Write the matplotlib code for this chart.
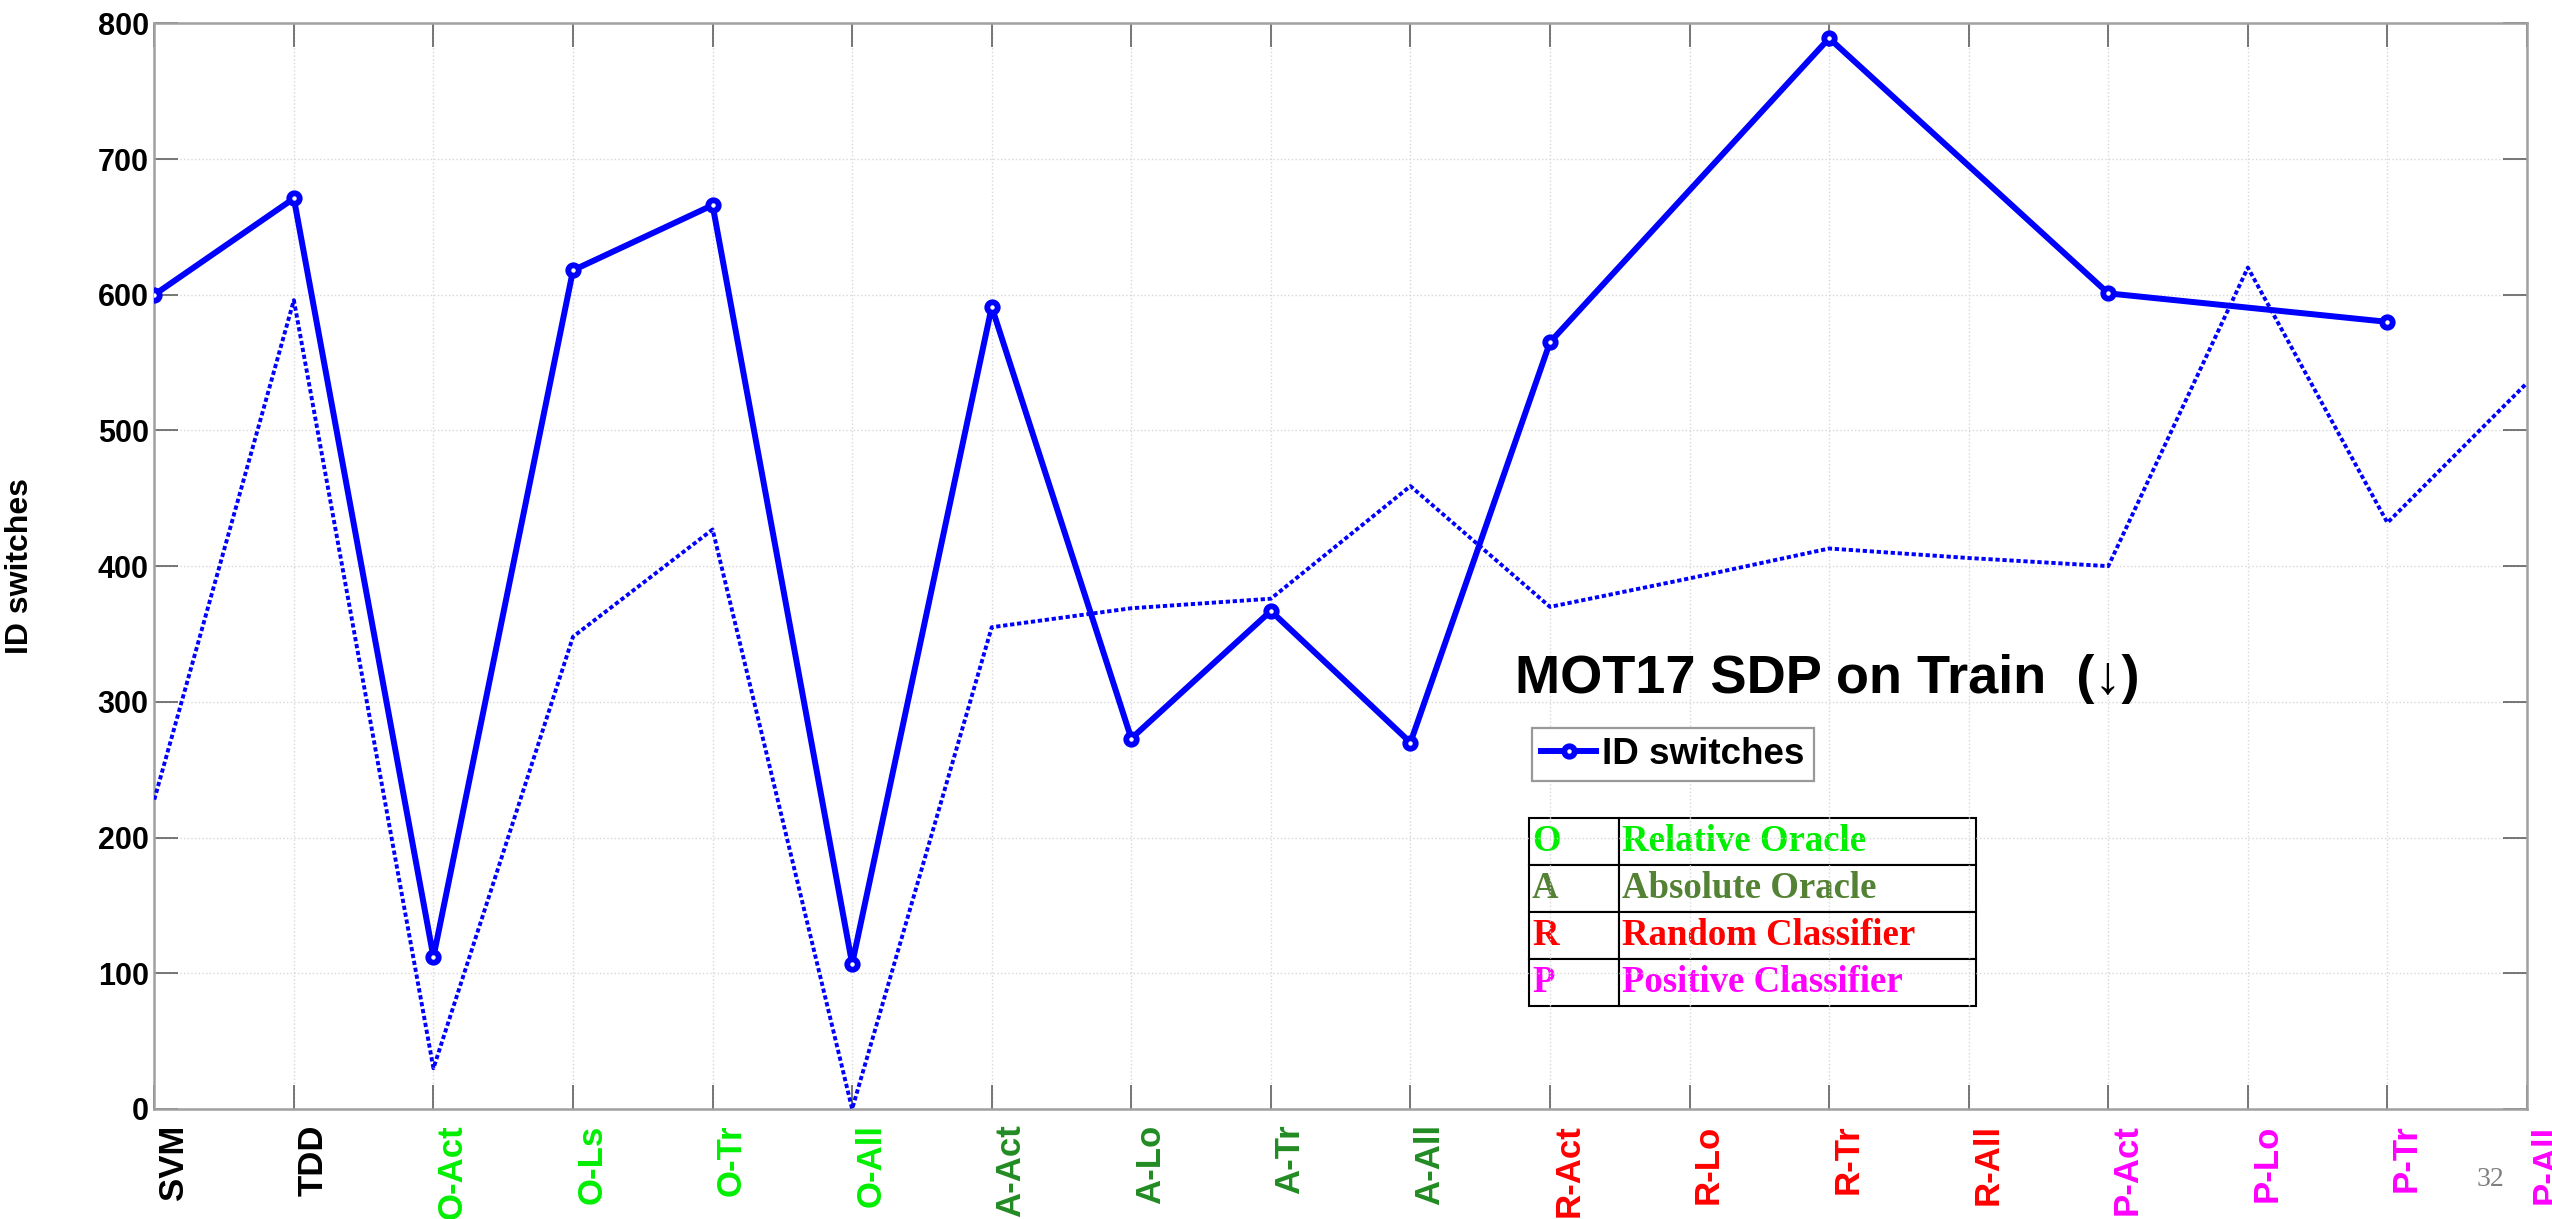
import numpy as np
import matplotlib
matplotlib.use('Agg')
import matplotlib.pyplot as plt
import matplotlib.transforms as mtransforms

plt.rcParams['font.family'] = ['Liberation Sans', 'DejaVu Sans']

# categories along the x axis
categories = ['SVM', 'TDD', 'O-Act', 'O-Ls', 'O-Tr', 'O-All', 'A-Act', 'A-Lo', 'A-Tr',
              'A-All', 'R-Act', 'R-Lo', 'R-Tr', 'R-All', 'P-Act', 'P-Lo', 'P-Tr', 'P-All']

# ID switches (solid line with markers), nan where no value
id_switches = [600, 671, 112, 618, 666, 107, 591, 273, 367, 270,
               565, np.nan, 789, np.nan, 601, np.nan, 580, np.nan]

# second (dotted) series
id_switches_ref = [228, 596, 30, 348, 427, 0, 355, 369, 376, 459,
                   370, 391, 413, 406, 400, 620, 432, 535]

# colour per group prefix
group_colors = {'S': 'black', 'T': 'black', 'O': '#00ee00', 'A': '#228b22',
                'R': '#ff0000', 'P': '#ff00ff'}

# key table
key_letters = ['O', 'A', 'R', 'P']
key_names = ['Relative Oracle', 'Absolute Oracle', 'Random Classifier', 'Positive Classifier']
key_colors = ['#00ee00', '#548235', '#ff0000', '#ff00ff']

W, H = 2552, 1219
fig = plt.figure(figsize=(W / 100, H / 100), dpi=100)
ax_left, ax_right, ax_top, ax_bottom = 154.3, 2527, 23.3, 1109
ax = fig.add_axes([ax_left / W, 1 - ax_bottom / H,
                   (ax_right - ax_left) / W, (ax_bottom - ax_top) / H])

x = np.arange(len(categories))
y1 = np.array(id_switches, dtype=float)
mask = ~np.isnan(y1)

ax.plot(x, id_switches_ref, color='#0000ff', lw=2.8, linestyle=(0, (1.1, 0.7)), zorder=3)
ax.plot(x[mask], y1[mask], color='#0000ff', lw=4.3, marker='o', ms=7.5,
        mfc='white', mec='#0000ff', mew=4.2, label='ID switches', zorder=4)

ax.set_xlim(0, len(categories) - 1)
ax.set_ylim(0, 800)
ax.set_yticks(np.arange(0, 801, 100))
ax.set_xticks(x)
ax.set_xticklabels(categories, rotation=90, fontsize=25, fontweight='bold')
for lab in ax.get_yticklabels():
    lab.set_fontsize(22)
    lab.set_fontweight('bold')

ax.grid(True, linestyle=':', color='#d8d8d8', lw=1.0, zorder=0)
for s in ax.spines.values():
    s.set_color('#a0a0a0')
    s.set_linewidth(1.8)
ax.tick_params(direction='in', length=17, width=1.2, color='#606060',
               top=True, right=True)
ax.tick_params(axis='x', pad=11)
ax.tick_params(axis='y', pad=4)

shift = mtransforms.ScaledTranslation(0.19, 0, fig.dpi_scale_trans)
for lab, name in zip(ax.get_xticklabels(), categories):
    lab.set_color(group_colors[name[0]])
    lab.set_transform(lab.get_transform() + shift)

fig.text(20 / W, 1 - 566 / H, 'ID switches', rotation=90, ha='center', va='center',
         fontsize=23, fontweight='bold')

fig.text(1515 / W, 1 - 693 / H, 'MOT17 SDP on Train  (\u2193)', fontsize=39,
         fontweight='bold', ha='left', va='baseline')

leg = ax.legend(loc='upper left', bbox_to_anchor=(1532 / W, 1 - 728 / H),
                bbox_transform=fig.transFigure, borderaxespad=0, borderpad=0.25,
                handlelength=1.5, handletextpad=0.15, fancybox=False, framealpha=1,
                prop={'size': 26.5, 'weight': 'bold'})
leg.get_frame().set_edgecolor('#999999')
leg.get_frame().set_linewidth(1.6)

# key table
tx0, tx1, ty0, ty1 = 1529, 1976, 818, 1006
aw, ah = ax_right - ax_left, ax_bottom - ax_top
col_px = [90, tx1 - tx0 - 90]
tbl = ax.table(cellText=[[l, n] for l, n in zip(key_letters, key_names)],
               colWidths=[c / (tx1 - tx0) for c in col_px], cellLoc='left',
               bbox=[(tx0 - ax_left) / aw, (ax_bottom - ty1) / ah,
                     (tx1 - tx0) / aw, (ty1 - ty0) / ah])
tbl.auto_set_font_size(False)
for (r, c), cell in tbl.get_celld().items():
    cell.set_edgecolor('black')
    cell.set_linewidth(1.5)
    cell.set_facecolor('white')
    cell.PAD = 3 / col_px[c]
    t = cell.get_text()
    t.set_color(key_colors[r])
    t.set_fontsize(26.5)
    t.set_fontweight('bold')
    t.set_fontfamily(['Liberation Serif', 'DejaVu Serif'])

fig.text(2490 / W, 1 - 1180 / H, '32', fontsize=20, color='#808080',
         family=['Liberation Serif', 'DejaVu Serif'], ha='center', va='center')

fig.savefig('out.png', dpi=100)
